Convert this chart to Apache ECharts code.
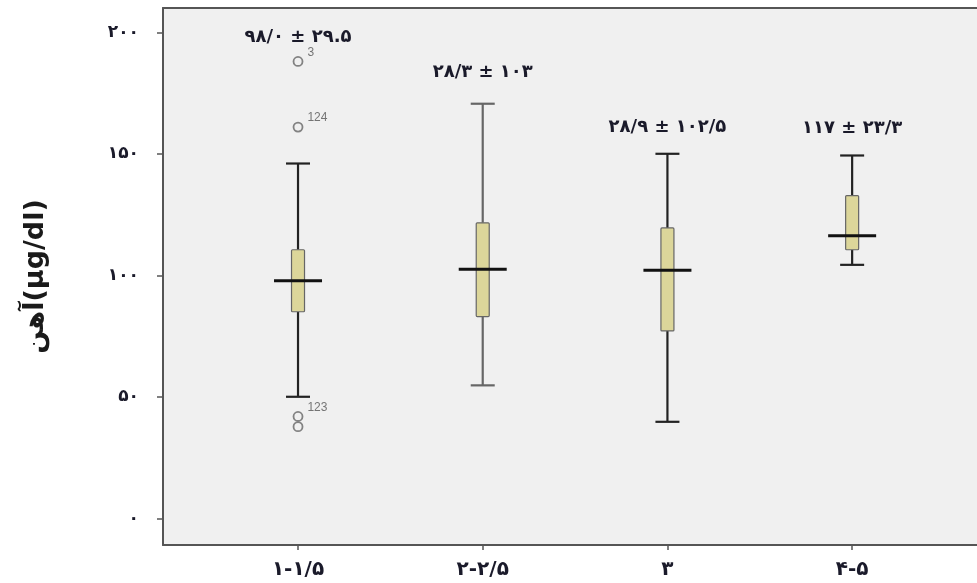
<!DOCTYPE html>
<html>
<head>
<meta charset="utf-8">
<script src="https://cdn.jsdelivr.net/npm/echarts@6/dist/echarts.min.js"></script>
<style>
html,body{margin:0;padding:0;background:#fff;}
#chart{width:977px;height:583px;}
</style>
</head>
<body>
<div id="chart"></div>
<script>
// ---- data ----
const categories = ['۱-۱/۵', '۲-۲/۵', '۳', '۴-۵'];
// [low whisker, Q1, median, Q3, high whisker]
const lowWhisker  = [50.0, 54.7, 39.7, 104.3];
const q1Values    = [85.0, 83.0, 77.1, 110.5];
const medianVals  = [97.7, 102.5, 102.1, 116.3];
const q3Values    = [110.5, 121.6, 119.5, 132.8];
const highWhisker = [146.0, 170.6, 150.0, 149.3];
const annotationTexts = ['۹۸/۰ ± ۲۹.۵', '۲۸/۳ ± ۱۰۳', '۲۸/۹ ± ۱۰۲/۵', '۱۱۷ ± ۲۳/۳'];
const annotationY = [198, 183.5, 161, 160.4];
const outlierCat = [0, 0, 0, 0];
const outlierVals = [188, 161, 41.9, 37.7];
const outlierIds = ['3', '124', '123', ''];
const yTickValues = [0, 50, 100, 150, 200];
const yTickLabels = ['۰', '۵۰', '۱۰۰', '۱۵۰', '۲۰۰'];
const yAxisName = 'آهن(µg/dl)';

const whiskerColors = ['#222', '#666', '#222', '#222'];

const boxData = categories.map((c, i) => [i, lowWhisker[i], q1Values[i], medianVals[i], q3Values[i], highWhisker[i]]);
const annData = categories.map((c, i) => [i, annotationY[i], annotationTexts[i]]);
const outData = outlierVals.map((v, i) => ({ value: [outlierCat[i], v], name: outlierIds[i] }));

function renderBox(params, api) {
  const x = api.value(0);
  const lo = api.coord([x, api.value(1)]);
  const q1 = api.coord([x, api.value(2)]);
  const med = api.coord([x, api.value(3)]);
  const q3 = api.coord([x, api.value(4)]);
  const hi = api.coord([x, api.value(5)]);
  const cx = lo[0];
  const wc = whiskerColors[params.dataIndex];
  const ws = { stroke: wc, lineWidth: 2.2 };
  const boxW = 13, capW = 24, medW = 48;
  return {
    type: 'group',
    children: [
      { type: 'line', shape: { x1: cx, y1: lo[1], x2: cx, y2: q1[1] }, style: ws },
      { type: 'line', shape: { x1: cx, y1: q3[1], x2: cx, y2: hi[1] }, style: ws },
      { type: 'line', shape: { x1: cx - capW / 2, y1: lo[1], x2: cx + capW / 2, y2: lo[1] }, style: ws },
      { type: 'line', shape: { x1: cx - capW / 2, y1: hi[1], x2: cx + capW / 2, y2: hi[1] }, style: ws },
      { type: 'rect', shape: { x: cx - boxW / 2, y: q3[1], width: boxW, height: q1[1] - q3[1], r: 1 },
        style: { fill: '#dcd69a', stroke: '#666', lineWidth: 1.2 } },
      { type: 'line', shape: { x1: cx - medW / 2, y1: med[1], x2: cx + medW / 2, y2: med[1] },
        style: { stroke: '#111', lineWidth: 3 } }
    ]
  };
}

function renderAnn(params, api) {
  const p = api.coord([api.value(0), api.value(1)]);
  return {
    type: 'text',
    x: p[0], y: p[1],
    style: {
      text: annData[params.dataIndex][2],
      align: 'center', verticalAlign: 'middle',
      fill: '#1a1a2a', font: 'bold 18px "DejaVu Sans"'
    }
  };
}

const frameLine = { show: true, onZero: false, lineStyle: { color: '#555', width: 2 } };

const chart = echarts.init(document.getElementById('chart'), null, { renderer: 'canvas' });
chart.setOption({
  animation: false,
  backgroundColor: '#fff',
  grid: {
    left: 163, top: 8, right: 0, bottom: 38,
    show: true, backgroundColor: '#f0f0f0', borderWidth: 0
  },
  xAxis: [{
    type: 'value', min: -0.731, max: 3.676,
    splitLine: { show: false },
    axisLine: frameLine,
    axisTick: { show: true, length: 5, customValues: [0, 1, 2, 3], lineStyle: { color: '#555', width: 1.5 } },
    axisLabel: {
      customValues: [0, 1, 2, 3],
      formatter: v => categories[Math.round(v)],
      margin: 15, color: '#1a1a2a', fontFamily: 'DejaVu Sans', fontWeight: 'bold', fontSize: 20
    }
  }, {
    type: 'value', position: 'top', min: -0.731, max: 3.676,
    splitLine: { show: false },
    axisLine: frameLine,
    axisTick: { show: false },
    axisLabel: { show: false }
  }],
  yAxis: {
    type: 'value', min: -11, max: 210,
    splitLine: { show: false },
    axisLine: frameLine,
    axisTick: { show: true, length: 6, customValues: yTickValues, lineStyle: { color: '#555', width: 1.5 } },
    axisLabel: {
      customValues: yTickValues,
      formatter: v => yTickLabels[yTickValues.indexOf(Math.round(v))],
      margin: 24, color: '#1a1a2a', fontFamily: 'DejaVu Sans', fontWeight: 'bold', fontSize: 17
    },
    name: yAxisName,
    nameLocation: 'middle', nameRotate: 90, nameGap: 114,
    nameTextStyle: { color: '#1a1a1a', fontFamily: 'DejaVu Sans', fontWeight: 'bold', fontSize: 27 }
  },
  series: [
    { type: 'custom', renderItem: renderBox, data: boxData, clip: false },
    { type: 'custom', renderItem: renderAnn, data: annData, clip: false },
    {
      type: 'scatter', data: outData,
      symbol: 'circle', symbolSize: 9,
      itemStyle: { color: 'rgba(0,0,0,0)', borderColor: '#666', borderWidth: 1.8 },
      label: {
        show: true, position: 'right', formatter: p => p.name,
        color: '#555', fontSize: 12, fontFamily: 'Liberation Sans', offset: [-1, -9]
      }
    }
  ]
});
</script>
</body>
</html>
